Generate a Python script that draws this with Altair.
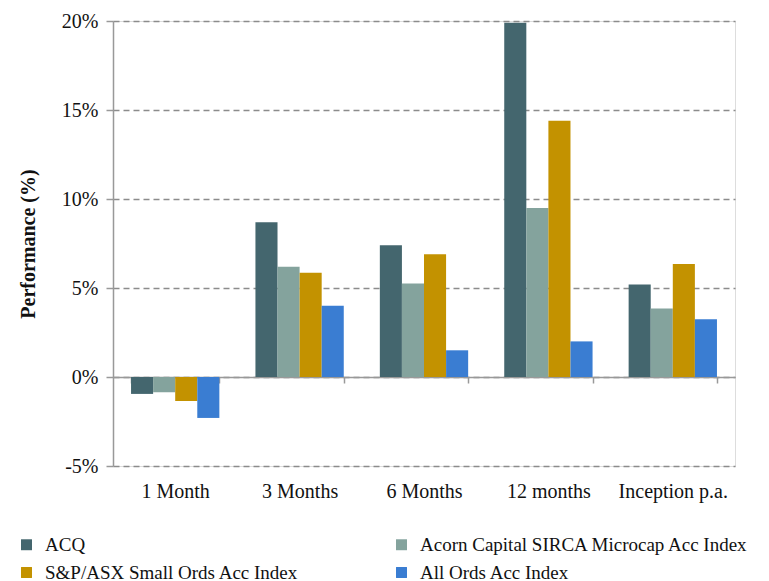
import altair as alt
import pandas as pd

periods = ["1 Month", "3 Months", "6 Months", "12 months", "Inception p.a."]
series = ["ACQ", "Acorn Capital SIRCA Microcap Acc Index",
          "S&P/ASX Small Ords Acc Index", "All Ords Acc Index"]
acq = [-0.95, 8.7, 7.4, 19.9, 5.2]
acorn = [-0.85, 6.2, 5.25, 9.5, 3.85]
small_ords = [-1.35, 5.85, 6.9, 14.4, 6.35]
all_ords = [-2.3, 4.0, 1.5, 2.0, 3.25]
colors = ["#44666E", "#84A39D", "#C39200", "#3A7DD2"]
y_ticks = [-5, 0, 5, 10, 15, 20]

rows = []
for s, vals in zip(series, [acq, acorn, small_ords, all_ords]):
    for p, v in zip(periods, vals):
        rows.append({"period": p, "series": s, "value": v})
df = pd.DataFrame(rows)

# legend is filled column by column
legend_order = [series[0], series[2], series[1], series[3]]
legend_colors = [colors[0], colors[2], colors[1], colors[3]]

FONT = "Liberation Serif"
FS = 20

chart = alt.Chart(df).mark_bar().encode(
    x=alt.X("period:N", sort=periods, title=None,
            scale=alt.Scale(paddingInner=0.29, paddingOuter=0.145),
            axis=alt.Axis(offset=-89, tickBand="extent", tickSize=6,
                          labelPadding=98, labelAngle=0, domainColor="#999999",
                          domainWidth=1.5, tickColor="#999999", tickWidth=1.5,
                          labelFont=FONT, labelFontSize=FS, labelColor="#111111",
                          grid=False)),
    xOffset=alt.XOffset("series:N", sort=series),
    y=alt.Y("value:Q", title="Performance (%)",
            scale=alt.Scale(domain=[-5, 20], nice=False, zero=False),
            axis=alt.Axis(values=y_ticks, labelExpr="datum.value + '%'",
                          grid=True, gridDash=[6, 4], gridColor="#8c8c8c",
                          gridWidth=1.5, domainColor="#999999", domainWidth=1.5,
                          tickColor="#999999", tickWidth=1.5, tickSize=7,
                          labelPadding=8, labelFont=FONT, labelFontSize=FS,
                          labelColor="#111111", titleFont=FONT, titleFontSize=FS,
                          titleFontWeight="bold", titleColor="#111111",
                          titlePadding=23)),
    color=alt.Color("series:N",
                    scale=alt.Scale(domain=legend_order, range=legend_colors),
                    legend=alt.Legend(title=None, orient="none", legendX=-96,
                                      legendY=514, columns=2, columnPadding=93,
                                      symbolType="square", symbolSize=120,
                                      symbolStrokeWidth=0, rowPadding=8,
                                      labelOffset=9,
                                      labelFont=FONT, labelFontSize=19,
                                      labelColor="#111111", labelLimit=400)),
).properties(
    width=622, height=445,
    autosize=alt.AutoSizeParams(type="none"),
    padding={"left": 113, "top": 21, "right": 34, "bottom": 115},
).configure_view(stroke=None).configure(background="white")

chart.save("out.html", embed_options={"renderer": "svg", "actions": False})
